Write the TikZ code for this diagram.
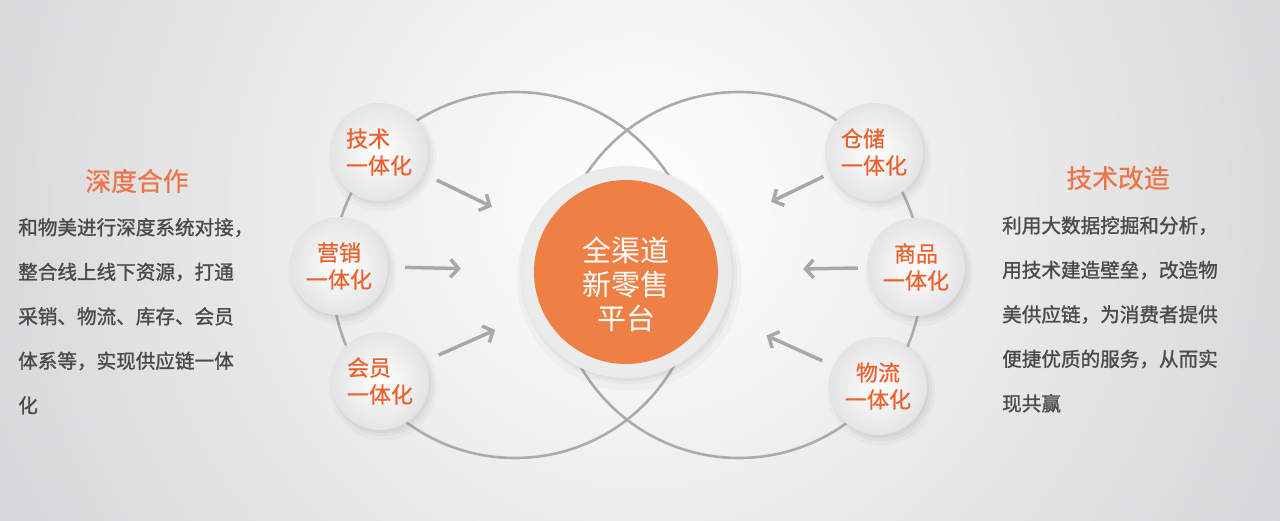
\documentclass[tikz,border=0pt]{standalone}
\usepackage{fontspec}
\setmainfont{Noto Sans CJK SC}
\newfontfamily\heavycjk{Noto Sans CJK SC}[FakeBold=1.3]
\newfontfamily\midcjk{Noto Sans CJK SC}[FakeBold=0.8]
\usetikzlibrary{arrows.meta, shadows}
\definecolor{bgGray}{HTML}{D6D6D8}
\definecolor{ringGray}{HTML}{ABABAB}
\definecolor{arrowGray}{HTML}{A8A8A8}
\definecolor{hubOrange}{HTML}{EE8046}
\definecolor{unitOrange}{HTML}{E8632E}
\definecolor{headOrange}{HTML}{EC7447}
\definecolor{bodyGray}{HTML}{4A4A4A}
\definecolor{unitEdge}{HTML}{E4E4E6}

\begin{document}
\begin{tikzpicture}[x=1pt, y=-1pt,
    unit/.style={circle, minimum size=98pt, inner sep=0pt,
                 inner color=white, outer color=unitEdge,
                 text=unitOrange, font=\midcjk\fontsize{22}{27}\selectfont,
                 align=#1,
                 drop shadow={opacity=0.05, shadow scale=1.1,
                              shadow xshift=3pt, shadow yshift=-5pt},
                 drop shadow={opacity=0.07, shadow scale=1.04,
                              shadow xshift=3pt, shadow yshift=-4pt},
                 drop shadow={opacity=0.08, shadow xshift=2pt,
                              shadow yshift=-3pt}},
    unit/.default=center,
    hub/.style={circle, minimum size=212pt, inner sep=0pt,
                inner color=white, outer color=unitEdge!80,
                drop shadow={opacity=0.05, shadow scale=1.06,
                             shadow xshift=3pt, shadow yshift=-6pt},
                drop shadow={opacity=0.07, shadow scale=1.02,
                             shadow xshift=3pt, shadow yshift=-4pt},
                drop shadow={opacity=0.08, shadow xshift=2pt,
                             shadow yshift=-3pt}},
    disk/.style={circle, minimum size=184pt, inner sep=0pt, fill=hubOrange},
    ring/.style={draw=ringGray, line width=2.6pt},
    feed/.style={-{Straight Barb[length=8pt, width=18pt]}, line width=3.5pt,
                 draw=arrowGray},
    heading/.style={text=headOrange, font=\midcjk\fontsize{25.8}{30}\selectfont},
    body/.style={text=bodyGray, font=\heavycjk\fontsize{19.6}{44.5}\selectfont,
                 align=left, anchor=north west, inner sep=0pt}
]

% ---- background ----
\useasboundingbox (0,0) rectangle (1280,521);
\fill[bgGray] (0,0) rectangle (1280,521);
\begin{scope}
  \clip (0,0) rectangle (1280,521);
  \shade[inner color=white, outer color=bgGray] (640,200) circle (720);
\end{scope}

% ---- two overlapping rings ----
\draw[ring] (515,275) circle (183);
\draw[ring] (739,275) circle (183);

% ---- left units ----
\node[unit=left] (jishu)  at (379,152) {技术\\一体化};
\node[unit]      (yingxiao) at (339,266) {营销\\一体化};
\node[unit=left] (huiyuan) at (380,381) {会员\\一体化};

% ---- right units ----
\node[unit=left] (cangchu) at (874,152) {仓储\\一体化};
\node[unit]      (shangpin) at (916,267) {商品\\一体化};
\node[unit]      (wuliu)   at (878,386) {物流\\一体化};

% ---- hub ----
\node[hub]  (core) at (626,272) {};
\node[disk] (disk) at (core) {};
\node[text=white, font=\fontsize{29}{34}\selectfont, align=center]
      (hubtext) at (626,284) {全渠道\\新零售\\平台};

% ---- arrows into the hub ----
\draw[feed, shorten <=15pt, shorten >=43pt] (jishu)    -- (core);
\draw[feed, shorten <=17pt, shorten >=59pt] (yingxiao) -- (core);
\draw[feed, shorten <=15pt, shorten >=37pt] (huiyuan)  -- (core);
\draw[feed, shorten <=7pt,  shorten >=55pt] (cangchu)  -- (core);
\draw[feed, shorten <=9pt,  shorten >=71pt] (shangpin) -- (core);
\draw[feed, shorten <=12pt, shorten >=48pt] (wuliu)    -- (core);

% ---- side texts ----
\node[heading] (lefthead) at (137,181) {深度合作};
\node[body] (lefttext) at (18,218)
      {和物美进行深度系统对接，\\整合线上线下资源，打通\\采销、物流、库存、会员\\体系等，实现供应链一体\\化};
\node[heading] (righthead) at (1118,178) {技术改造};
\node[body] (righttext) at (1002,216)
      {利用大数据挖掘和分析，\\用技术建造壁垒，改造物\\美供应链，为消费者提供\\便捷优质的服务，从而实\\现共赢};

\end{tikzpicture}
\end{document}
